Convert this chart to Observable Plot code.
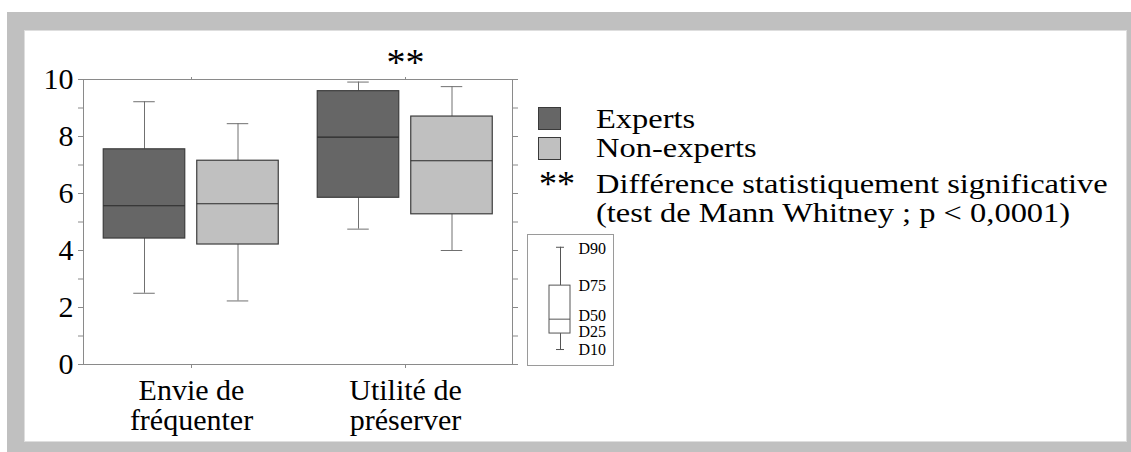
<!DOCTYPE html>
<html><head><meta charset="utf-8">
<script src="https://cdn.jsdelivr.net/npm/d3@7"></script>
<script src="https://cdn.jsdelivr.net/npm/@observablehq/plot@0.6"></script>
<style>
html,body{margin:0;padding:0;background:#fff;width:1131px;height:452px;overflow:hidden;}
#outer{position:absolute;left:7px;top:12px;width:1124px;height:440px;background:#c0c0c0;}
#panel{position:absolute;left:18px;top:19px;width:1101px;height:410px;background:#fff;box-shadow:0 0 0 1px #dedede;}
#chart{position:absolute;left:0;top:0;}
#mini{position:absolute;left:502px;top:203px;}
.sw{position:absolute;left:513px;width:21px;height:21px;border:1.5px solid #3a3a3a;}
.lg{position:absolute;font-family:"Liberation Serif","Tinos","Times New Roman","DejaVu Serif",serif;font-size:28px;line-height:28px;white-space:nowrap;color:#000;transform-origin:0 50%;}
.wide{transform:scaleX(1.16);}
</style></head>
<body>
<div id="outer"><div id="panel">
  <div id="chart"></div>
  <div class="sw" style="top:76px;background:#666666"></div>
  <div class="sw" style="top:106px;background:#c0c0c0"></div>
  <div class="lg wide" style="left:571px;top:74px">Experts</div>
  <div class="lg wide" style="left:571px;top:103px">Non-experts</div>
  <div class="lg" style="left:514px;top:139px;font-size:36px">**</div>
  <div class="lg wide" style="left:571px;top:139px">Différence statistiquement significative</div>
  <div class="lg wide" style="left:571px;top:168px">(test de Mann Whitney ; p &lt; 0,0001)</div>
  <div id="mini"></div>
</div></div>
<script>
// ---- data ----
const categories = ["Envie de\nfréquenter", "Utilité de\npréserver"];
const groups = ["Experts", "Non-experts"];
// deciles per group, one value per category
const expertsD10 = [2.5, 4.75];
const expertsD25 = [4.42, 5.85];
const expertsD50 = [5.57, 7.98];
const expertsD75 = [7.55, 9.59];
const expertsD90 = [9.22, 9.91];
const nonExpertsD10 = [2.23, 4.0];
const nonExpertsD25 = [4.21, 5.27];
const nonExpertsD50 = [5.64, 7.15];
const nonExpertsD75 = [7.15, 8.70];
const nonExpertsD90 = [8.45, 9.75];
const yTicks = [0,1,2,3,4,5,6,7,8,9,10];
const significant = ["Utilité de\npréserver"];
// schematic legend of the box
const decileLabels = ["D10","D25","D50","D75","D90"];
const decileValues = [1, 2, 2.9, 5, 7.4];
const decileLabelY = [1, 2.1, 3.1, 5, 7.3];

const FONT = "'Liberation Serif', Tinos, 'Times New Roman', 'DejaVu Serif', serif";

const series = {
  "Experts": [expertsD10, expertsD25, expertsD50, expertsD75, expertsD90],
  "Non-experts": [nonExpertsD10, nonExpertsD25, nonExpertsD50, nonExpertsD75, nonExpertsD90]
};
const rows = [];
groups.forEach(g => categories.forEach((c, i) => {
  const [a,b,m,d,e] = series[g].map(arr => arr[i]);
  rows.push({cat: c, group: g, d10: a, d25: b, d50: m, d75: d, d90: e});
}));

// ---- layout ----
const W = 495, H = 410, ML = 58, MR = 8, MT = 48, MB = 77;
const band = (W - ML - MR) / categories.length;
const BOX = 82, CAP = 22;
const style = {
  "Experts": {dx: -47, fill: "#666666"},
  "Non-experts": {dx: 46.5, fill: "#c0c0c0"}
};
const inL = (g, w) => band / 2 + style[g].dx - w / 2;
const inR = (g, w) => band / 2 - style[g].dx - w / 2;
const WH = "#707070";

const marks = [];
for (const g of groups) {
  const data = rows.filter(r => r.group === g);
  const s = style[g];
  marks.push(
    Plot.ruleX(data, {x: "cat", y1: "d10", y2: "d25", dx: s.dx, stroke: WH}),
    Plot.ruleX(data, {x: "cat", y1: "d75", y2: "d90", dx: s.dx, stroke: WH}),
    Plot.tickY(data, {x: "cat", y: "d10", insetLeft: inL(g, CAP), insetRight: inR(g, CAP), stroke: WH}),
    Plot.tickY(data, {x: "cat", y: "d90", insetLeft: inL(g, CAP), insetRight: inR(g, CAP), stroke: WH}),
    Plot.barY(data, {x: "cat", y1: "d25", y2: "d75", insetLeft: inL(g, BOX), insetRight: inR(g, BOX), fill: s.fill, stroke: "#3c3c3c", strokeWidth: 1.2}),
    Plot.tickY(data, {x: "cat", y: "d50", insetLeft: inL(g, BOX), insetRight: inR(g, BOX), stroke: "#2a2a2a", strokeWidth: 1.2})
  );
}

const chart = Plot.plot({
  width: W, height: H,
  marginLeft: ML, marginRight: MR, marginTop: MT, marginBottom: MB,
  style: {fontFamily: FONT, fontSize: "31px", color: "#000", background: "transparent", overflow: "visible"},
  x: {type: "band", domain: categories, padding: 0, label: null, axis: null},
  y: {domain: [0, 10], label: null, axis: null},
  marks: [
    ...marks,
    Plot.frame({stroke: "#8a8a8a"}),
    Plot.axisY({ticks: yTicks, tickSize: 5, tickPadding: 5, tickFormat: d => d % 2 === 0 ? String(d) : "", stroke: "#8a8a8a", fill: "#000", fontSize: 30, label: null}),
    Plot.axisY({anchor: "right", ticks: yTicks, tickSize: 5, tickFormat: () => "", stroke: "#8a8a8a", label: null}),
    Plot.axisX({anchor: "top", tickSize: 3, tickFormat: () => "", stroke: "#8a8a8a", label: null}),
    Plot.axisX({anchor: "bottom", tickSize: 4, tickPadding: 10, fontSize: 30, lineHeight: 1, stroke: "#8a8a8a", fill: "#000", label: null}),
    Plot.text(significant, {x: d => d, frameAnchor: "top", text: () => "**", dy: -5, lineAnchor: "bottom", fontSize: 38, fill: "#000"})
  ]
});
document.getElementById("chart").appendChild(chart);

// ---- schematic box legend ----
const mw = 86, mh = 131;
const dec = {k: "k"};
decileLabels.forEach((l, i) => dec[l] = decileValues[i]);
const labs = decileLabels.map((l, i) => ({k: "k", label: l, y: decileLabelY[i]}));
const MS = "#555";
const mini = Plot.plot({
  width: mw, height: mh, margin: 0,
  style: {fontFamily: FONT, fontSize: "16px", color: "#000", background: "transparent", overflow: "visible"},
  x: {type: "band", domain: ["k"], padding: 0, axis: null},
  y: {domain: [0, 8.2], axis: null},
  marks: [
    Plot.ruleX([dec], {x: "k", y1: "D10", y2: "D25", dx: -10, stroke: MS}),
    Plot.ruleX([dec], {x: "k", y1: "D75", y2: "D90", dx: -10, stroke: MS}),
    Plot.tickY([dec], {x: "k", y: "D10", insetLeft: 29, insetRight: 49, stroke: MS}),
    Plot.tickY([dec], {x: "k", y: "D90", insetLeft: 29, insetRight: 49, stroke: MS}),
    Plot.barY([dec], {x: "k", y1: "D25", y2: "D75", insetLeft: 22, insetRight: 43, fill: "#fff", stroke: MS}),
    Plot.tickY([dec], {x: "k", y: "D50", insetLeft: 22, insetRight: 43, stroke: MS}),
    Plot.text(labs, {x: "k", y: "y", text: "label", dx: 8, textAnchor: "start", fill: "#000"}),
    Plot.frame({stroke: "#9a9a9a"})
  ]
});
document.getElementById("mini").appendChild(mini);
</script>
</body></html>
